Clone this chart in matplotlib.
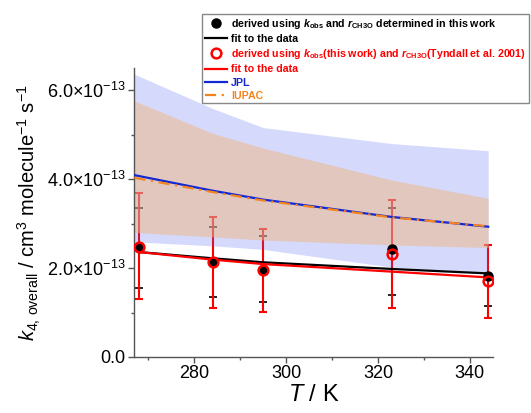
import matplotlib
matplotlib.use("Agg")
import matplotlib.pyplot as plt
import numpy as np
from matplotlib.ticker import FixedLocator, FuncFormatter

plt.rcParams['font.family'] = ['Liberation Sans', 'DejaVu Sans']
plt.rcParams['mathtext.fontset'] = 'custom'
plt.rcParams['mathtext.rm'] = 'Liberation Sans'
plt.rcParams['mathtext.it'] = 'Liberation Sans:italic'
plt.rcParams['mathtext.bf'] = 'Liberation Sans:bold'
plt.rcParams['mathtext.bfit'] = 'Liberation Sans:italic:bold'

# ---- data (units of 1e-13 cm3 molecule-1 s-1) ----
T = [268, 284, 295, 323, 344]
k_this = [2.48, 2.13, 1.96, 2.43, 1.82]
k_this_lo = [1.55, 1.35, 1.24, 1.40, 1.14]
k_this_hi = [3.36, 2.93, 2.72, 3.36, 2.52]
k_tyn = [2.47, 2.13, 1.96, 2.32, 1.70]
k_tyn_lo = [1.30, 1.10, 1.02, 1.10, 0.88]
k_tyn_hi = [3.68, 3.14, 2.88, 3.54, 2.52]
fit_this = [2.36, 2.22, 2.13, 1.98, 1.88]
fit_tyn = [2.36, 2.19, 2.09, 1.92, 1.79]

T_ref = [267, 284, 295, 323, 344]
jpl = [4.09, 3.74, 3.54, 3.15, 2.93]
iupac = [4.03, 3.71, 3.52, 3.14, 2.94]
jpl_up = [6.36, 5.59, 5.16, 4.80, 4.64]
jpl_lo = [2.59, 2.50, 2.42, 2.02, 1.90]
iupac_up = [5.76, 5.03, 4.70, 3.98, 3.57]
iupac_lo = [2.80, 2.70, 2.63, 2.52, 2.46]

x_major = [280, 300, 320, 340]
x_minor = [270, 290, 310, 330]
y_major = [0, 2, 4, 6]
y_minor = [1, 3, 5]

scale = 1e-13
def s(a):
    return np.array(a) * scale

fig = plt.figure(figsize=(5.31, 4.13), dpi=100)
ax = fig.add_axes([0.2524, 0.1356, 0.6756, 0.6998])

Ta = np.array(T)
ax.errorbar(Ta, s(k_this), yerr=[s(k_this) - s(k_this_lo), s(k_this_hi) - s(k_this)],
            fmt='none', ecolor='black', elinewidth=1.2, capsize=3, capthick=1.2, zorder=1)
ax.errorbar(Ta, s(k_tyn), yerr=[s(k_tyn) - s(k_tyn_lo), s(k_tyn_hi) - s(k_tyn)],
            fmt='none', ecolor='#ff0000', elinewidth=1.5, capsize=3, capthick=1.5, zorder=1.1)

ax.fill_between(T_ref, s(jpl_lo), s(jpl_up), color=(0.25, 0.35, 0.95), alpha=0.22, lw=0, zorder=2)
ax.fill_between(T_ref, s(iupac_lo), s(iupac_up), color='#efb684', alpha=0.5, lw=0, zorder=2.1)

l_fit1, = ax.plot(T, s(fit_this), color='black', lw=1.6, zorder=3)
l_fit2, = ax.plot(T, s(fit_tyn), color='#ff0000', lw=1.6, zorder=3)
l_jpl, = ax.plot(T_ref, s(jpl), color='#1428d2', lw=1.6, zorder=3.2)
l_iup, = ax.plot(T_ref, s(iupac), color='#f5841f', lw=1.6, ls=(0, (5, 2.5, 1, 2.5)), zorder=3.3)

m1, = ax.plot(T, s(k_this), 'o', color='black', ms=6.5, zorder=4)
m2, = ax.plot(T, s(k_tyn), 'o', mfc='none', mec='#ff0000', mew=1.8, ms=7, zorder=4.1)

ax.set_xlim(266.9, 345.0)
ax.set_ylim(0, 6.5e-13)
ax.xaxis.set_major_locator(FixedLocator(x_major))
ax.xaxis.set_minor_locator(FixedLocator(x_minor))
ax.yaxis.set_major_locator(FixedLocator(s(y_major)))
ax.yaxis.set_minor_locator(FixedLocator(s(y_minor)))

def yfmt(v, pos):
    if abs(v) < 1e-20:
        return '0.0'
    return r'%.1f$\times$10$^{-13}$' % (v / 1e-13)
ax.yaxis.set_major_formatter(FuncFormatter(yfmt))

for sp in ['top', 'right']:
    ax.spines[sp].set_visible(False)
for sp in ['left', 'bottom']:
    ax.spines[sp].set_color('#555555')
    ax.spines[sp].set_linewidth(1.0)
ax.tick_params(which='major', direction='out', length=4, width=1, color='#555555', labelsize=13, pad=2)
ax.tick_params(which='minor', direction='out', length=2.5, width=1, color='#555555')

ax.set_xlabel(r'$T$ / K', fontsize=17, labelpad=1)
ax.set_ylabel(r'$k_{\mathrm{4,\,overall}}$ / cm$^{3}$ molecule$^{-1}$ s$^{-1}$', fontsize=14.5, labelpad=3)

handles = [m1, l_fit1, m2, l_fit2, l_jpl, l_iup]
labels = [r'derived using $\mathbfit{k}_{\mathbf{obs}}$ and $\mathbfit{r}_{\mathbf{CH3O}}$ determined in this work',
          'fit to the data',
          r'derived using $\mathbfit{k}_{\mathbf{obs}}$(this work) and $\mathbfit{r}_{\mathbf{CH3O}}$(Tyndall et al. 2001)',
          'fit to the data', 'JPL', 'IUPAC']
colors = ['black', 'black', '#ff0000', '#ff0000', '#1428d2', '#f5841f']

renderer = fig.canvas.get_renderer()
size = 8.2
while True:
    leg = fig.legend(handles, labels, loc='upper left', bbox_to_anchor=(0.381, 0.966),
                     prop={'weight': 'bold', 'size': size}, frameon=True, fancybox=False,
                     edgecolor='#888888', framealpha=1, handlelength=2.1, handletextpad=0.35,
                     labelspacing=0.3, borderpad=0.25, borderaxespad=0)
    fig.canvas.draw()
    bb = leg.get_window_extent(renderer)
    if bb.x1 <= 530 or size < 6:
        break
    leg.remove()
    size -= 0.1
leg.get_frame().set_linewidth(1.0)
for t, c in zip(leg.get_texts(), colors):
    t.set_color(c)

fig.savefig('out.png', dpi=100)
